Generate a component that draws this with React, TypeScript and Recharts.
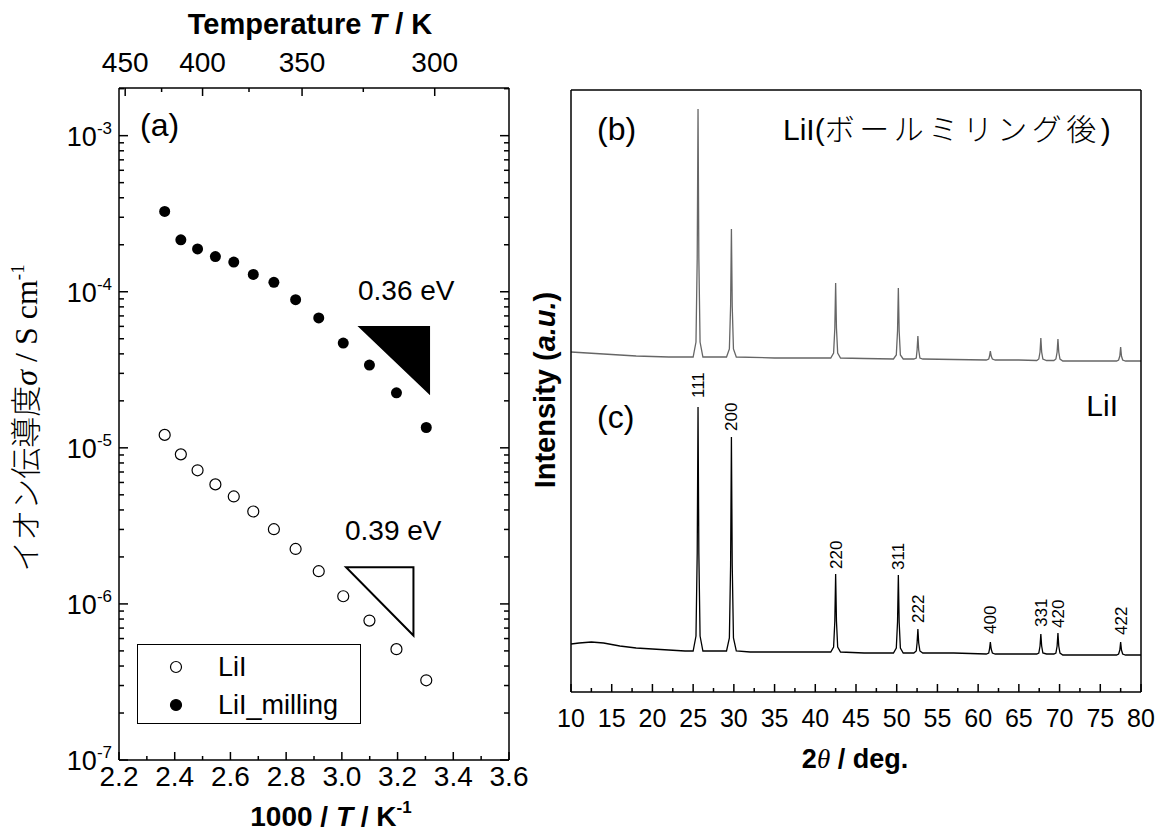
import {
  ScatterChart,
  Scatter,
  ComposedChart,
  Line,
  XAxis,
  YAxis,
  Legend,
} from "recharts";

const SANS = "'Liberation Sans', Arial, sans-serif";
const SERIF = "'Liberation Serif', 'Times New Roman', serif";
const CJK = "'Noto Sans CJK JP', sans-serif";

// (a) conductivity vs 1000/T
const INV_T = [2.364, 2.422, 2.482, 2.546, 2.612, 2.682, 2.756, 2.834, 2.917, 3.005, 3.099, 3.196, 3.303];
const SIGMA_LII = [1.21e-5, 9.08e-6, 7.18e-6, 5.83e-6, 4.88e-6, 3.91e-6, 3.01e-6, 2.25e-6, 1.62e-6, 1.12e-6, 7.82e-7, 5.13e-7, 3.24e-7];
const SIGMA_MILL = [3.27e-4, 2.15e-4, 1.88e-4, 1.68e-4, 1.55e-4, 1.29e-4, 1.15e-4, 8.9e-5, 6.8e-5, 4.69e-5, 3.39e-5, 2.25e-5, 1.35e-5];

// slope triangles (corner points)
const TRI_MILL_X = [3.065, 3.313, 3.313];
const TRI_MILL_Y = [5.94e-5, 5.94e-5, 2.25e-5];
const TRI_LII_X = [3.015, 3.257, 3.257];
const TRI_LII_Y = [1.72e-6, 1.72e-6, 6.27e-7];

const INV_T_TICKS = [2.2, 2.3, 2.4, 2.5, 2.6, 2.7, 2.8, 2.9, 3.0, 3.1, 3.2, 3.3, 3.4, 3.5, 3.6];
const TEMP_TICKS = [450, 425, 400, 375, 350, 325, 300];
const TEMP_LABELED = [450, 400, 350, 300];
const SIGMA_DECADES = [1e-7, 1e-6, 1e-5, 1e-4, 1e-3];
const SIGMA_DOMAIN: [number, number] = [1e-7, 2.02e-3];

// (b), (c) XRD patterns: [2theta, intensity a.u.]
const PATTERN_MILL: [number, number][] = [
  [10, 340], [12, 339], [14, 338], [16, 337], [18, 336], [20, 335.5], [22, 335], [24, 335],
  [25.0, 335], [25.35, 350], [25.5, 434], [25.6, 583], [25.7, 434], [25.85, 350], [26.2, 335],
  [28, 335],
  [29.1, 335], [29.45, 343], [29.6, 386], [29.7, 463], [29.8, 386], [29.95, 343], [30.3, 335],
  [35, 334], [40, 334],
  [41.9, 334], [42.25, 339], [42.4, 364], [42.5, 409], [42.6, 364], [42.75, 339], [43.1, 334],
  [46, 333.5],
  [49.6, 333], [49.95, 337], [50.1, 361], [50.2, 404], [50.3, 361], [50.45, 337], [50.8, 333],
  [52.1, 333], [52.4, 334], [52.5, 342], [52.6, 356], [52.7, 342], [52.85, 334], [53.2, 333],
  [57, 332.5],
  [61.0, 332], [61.3, 333], [61.4, 336], [61.5, 341], [61.6, 336], [61.75, 333], [62.1, 332],
  [65, 332],
  [67.2, 331.5], [67.45, 333], [67.6, 340], [67.7, 354], [67.8, 340], [67.95, 333], [68.4, 331.5],
  [69.3, 331.5], [69.55, 333], [69.7, 340], [69.8, 353], [69.9, 340], [70.05, 333], [70.4, 331],
  [74, 331],
  [77.0, 331], [77.25, 332], [77.4, 336], [77.5, 345], [77.6, 336], [77.75, 332], [78.1, 331],
  [80, 331],
];

const PATTERN_LII: [number, number][] = [
  [10, 48], [11, 49], [12.5, 50], [14, 49], [16, 46], [18, 44], [20, 43], [22, 42], [24, 41],
  [25.0, 41], [25.35, 56], [25.5, 139], [25.6, 285], [25.7, 139], [25.85, 56], [26.2, 41],
  [28, 41],
  [29.1, 41], [29.45, 54], [29.6, 127], [29.7, 255], [29.8, 127], [29.95, 54], [30.3, 41],
  [32, 40], [36, 40], [40, 40],
  [41.9, 40], [42.25, 45], [42.4, 71], [42.5, 118], [42.6, 71], [42.75, 45], [43.1, 40],
  [46, 39],
  [49.6, 39], [49.95, 44], [50.1, 70], [50.2, 117], [50.3, 70], [50.45, 44], [50.8, 39],
  [52.1, 39], [52.4, 41], [52.5, 49], [52.6, 63], [52.7, 49], [52.85, 41], [53.2, 39],
  [57, 39],
  [61.0, 38], [61.3, 39], [61.4, 43], [61.5, 50], [61.6, 43], [61.75, 39], [62.1, 38],
  [65, 38],
  [67.2, 38], [67.45, 39], [67.6, 46], [67.7, 58], [67.8, 46], [67.95, 39], [68.4, 38],
  [69.3, 38], [69.55, 39], [69.7, 46], [69.8, 59], [69.9, 46], [70.05, 39], [70.4, 37],
  [74, 37],
  [77.0, 37], [77.25, 38], [77.4, 42], [77.5, 50], [77.6, 42], [77.75, 38], [78.1, 37],
  [80, 37],
];

const HKL = ["111", "200", "220", "311", "222", "400", "331", "420", "422"];
const HKL_2THETA = [25.6, 29.7, 42.5, 50.2, 52.6, 61.5, 67.7, 69.8, 77.5];
const HKL_LABEL_Y = [294, 261, 123, 122, 69, 58, 65, 64, 57];

const TWO_THETA_TICKS = [
  10, 12.5, 15, 17.5, 20, 22.5, 25, 27.5, 30, 32.5, 35, 37.5, 40, 42.5, 45, 47.5,
  50, 52.5, 55, 57.5, 60, 62.5, 65, 67.5, 70, 72.5, 75, 77.5, 80,
];

const lii = INV_T.map((x, i) => ({ x, y: SIGMA_LII[i] }));
const mill = INV_T.map((x, i) => ({ x, y: SIGMA_MILL[i] }));
const triMill = TRI_MILL_X.map((x, i) => ({ x, y: TRI_MILL_Y[i] }));
const triLii = TRI_LII_X.map((x, i) => ({ x, y: TRI_LII_Y[i] }));
const sigmaTicks = SIGMA_DECADES.flatMap((d) =>
  d >= 1e-3 ? [d, 2 * d] : [1, 2, 3, 4, 5, 6, 7, 8, 9].map((m) => m * d)
);
const millData = PATTERN_MILL.map(([t, i]) => ({ t, i }));
const liiData = PATTERN_LII.map(([t, i]) => ({ t, i }));
const hklData = HKL.map((h, k) => ({ t: HKL_2THETA[k], i: HKL_LABEL_Y[k], h }));

const isDecade = (v: number) =>
  Math.abs(Math.log10(v) - Math.round(Math.log10(v))) < 1e-6;

const AXIS_LINE = { stroke: "#000", strokeWidth: 1.5 };

function LeftTick({ x, y, payload }: any) {
  const v = payload.value;
  const major = isDecade(v);
  const exp = Math.round(Math.log10(v));
  return (
    <g>
      <line x1={x} x2={x + (major ? 9 : 5)} y1={y} y2={y} stroke="#000" strokeWidth={1.5} />
      {major && (
        <text x={x - 7} y={y + 10} textAnchor="end" fontSize={27} fontFamily={SANS} fill="#000">
          <tspan>10</tspan>
          <tspan fontSize={17} dy={-12}>{`-${-exp}`}</tspan>
        </text>
      )}
    </g>
  );
}

function RightTick({ x, y, payload }: any) {
  const major = isDecade(payload.value);
  return <line x1={x} x2={x - (major ? 9 : 5)} y1={y} y2={y} stroke="#000" strokeWidth={1.5} />;
}

function BottomTickA({ x, y, payload }: any) {
  const v = payload.value;
  const major = Math.round(v * 10) % 2 === 0;
  return (
    <g>
      <line x1={x} x2={x} y1={y} y2={y - (major ? 8 : 4)} stroke="#000" strokeWidth={1.5} />
      {major && (
        <text x={x} y={y + 26} textAnchor="middle" fontSize={28} fontFamily={SANS} fill="#000">
          {v.toFixed(1)}
        </text>
      )}
    </g>
  );
}

function TopTickA({ x, y, payload }: any) {
  const temp = Math.round(1000 / payload.value);
  const major = TEMP_LABELED.includes(temp);
  return (
    <g>
      <line x1={x} x2={x} y1={y} y2={y + (major ? 8 : 4)} stroke="#000" strokeWidth={1.5} />
      {major && (
        <text x={x} y={y - 16} textAnchor="middle" fontSize={28} fontFamily={SANS} fill="#000">
          {temp}
        </text>
      )}
    </g>
  );
}

function BottomTickB({ x, y, payload }: any) {
  const v = payload.value;
  const major = v % 5 === 0;
  return (
    <g>
      <line x1={x} x2={x} y1={y} y2={y - (major ? 8 : 4)} stroke="#000" strokeWidth={1.5} />
      {major && (
        <text x={x} y={y + 35} textAnchor="middle" fontSize={25} fontFamily={SANS} fill="#000">
          {v}
        </text>
      )}
    </g>
  );
}

const EmptyTick = () => <g />;

const triangle = (filled: boolean) => (props: any) => {
  const pts = (props.points || []).map((p: any) => `${p.x},${p.y}`).join(" ");
  return (
    <polygon
      points={pts}
      fill={filled ? "#000" : "none"}
      stroke="#000"
      strokeWidth={2}
      strokeLinejoin="miter"
    />
  );
};

const noDot = () => <g />;

function LegendBox({ payload }: any) {
  const items = (payload || []).filter((p: any) => p.value === "LiI" || p.value === "LiI_milling");
  return (
    <div
      style={{
        width: 224,
        height: 80,
        boxSizing: "border-box",
        border: "1.5px solid #000",
        background: "#fff",
        fontFamily: SANS,
        fontSize: 27,
        color: "#000",
        paddingTop: 3,
      }}
    >
      {items.map((p: any) => (
        <div key={p.value} style={{ display: "flex", alignItems: "center", height: 38 }}>
          <svg width={80} height={36}>
            <circle
              cx={38}
              cy={18}
              r={5.5}
              fill={p.value === "LiI" ? "#fff" : "#000"}
              stroke="#000"
              strokeWidth={1.2}
            />
          </svg>
          <span>{p.value}</span>
        </div>
      ))}
    </div>
  );
}

function HklLabel({ cx, cy, payload }: any) {
  return (
    <text
      x={cx + 6}
      y={cy}
      transform={`rotate(-90, ${cx + 6}, ${cy})`}
      fontSize={17}
      fontFamily={SANS}
      fill="#000"
    >
      {payload.h}
    </text>
  );
}

export default function App() {
  return (
    <div style={{ position: "relative", width: 1164, height: 834, margin: "-8px 0 0 -8px", background: "#fff" }}>
      <div style={{ position: "absolute", left: 0, top: 0 }}>
        <ScatterChart width={530} height={834} margin={{ top: 87, right: 20, bottom: 73, left: 118 }}>
          <XAxis
            xAxisId="b"
            dataKey="x"
            type="number"
            domain={[2.2, 3.6]}
            allowDataOverflow
            ticks={INV_T_TICKS}
            interval={0}
            height={1}
            tickSize={0}
            tickMargin={0}
            tickLine={false}
            tick={<BottomTickA />}
            axisLine={AXIS_LINE}
          />
          <XAxis
            xAxisId="t"
            orientation="top"
            dataKey="x"
            type="number"
            domain={[2.2, 3.6]}
            allowDataOverflow
            ticks={TEMP_TICKS.map((T) => 1000 / T)}
            interval={0}
            height={1}
            tickSize={0}
            tickMargin={0}
            tickLine={false}
            tick={<TopTickA />}
            axisLine={AXIS_LINE}
          />
          <YAxis
            yAxisId="l"
            dataKey="y"
            type="number"
            scale="log"
            domain={SIGMA_DOMAIN}
            allowDataOverflow
            ticks={sigmaTicks}
            interval={0}
            width={1}
            tickSize={0}
            tickMargin={0}
            tickLine={false}
            tick={<LeftTick />}
            axisLine={AXIS_LINE}
          />
          <YAxis
            yAxisId="r"
            orientation="right"
            dataKey="y"
            type="number"
            scale="log"
            domain={SIGMA_DOMAIN}
            allowDataOverflow
            ticks={sigmaTicks}
            interval={0}
            width={1}
            tickSize={0}
            tickMargin={0}
            tickLine={false}
            tick={<RightTick />}
            axisLine={AXIS_LINE}
          />
          <Scatter
            name="LiI"
            data={lii}
            xAxisId="b"
            yAxisId="l"
            fill="#fff"
            isAnimationActive={false}
            shape={(p: any) => (
              <circle cx={p.cx} cy={p.cy} r={5.5} fill="#fff" stroke="#000" strokeWidth={1.2} />
            )}
          />
          <Scatter
            name="LiI_milling"
            data={mill}
            xAxisId="b"
            yAxisId="l"
            fill="#000"
            isAnimationActive={false}
            shape={(p: any) => <circle cx={p.cx} cy={p.cy} r={5.5} fill="#000" />}
          />
          <Scatter
            name="slope-mill"
            data={triMill}
            xAxisId="b"
            yAxisId="l"
            legendType="none"
            line={triangle(true)}
            lineType="joint"
            shape={noDot}
            isAnimationActive={false}
          />
          <Scatter
            name="slope-lii"
            data={triLii}
            xAxisId="b"
            yAxisId="l"
            legendType="none"
            line={triangle(false)}
            lineType="joint"
            shape={noDot}
            isAnimationActive={false}
          />
          <Legend
            layout="vertical"
            align="center"
            verticalAlign="middle"
            content={<LegendBox />}
            wrapperStyle={{ position: "absolute", left: 137, top: 644, width: 224, height: 80 }}
          />
        </ScatterChart>
      </div>

      <div style={{ position: "absolute", left: 530, top: 0 }}>
        <ComposedChart width={634} height={834} margin={{ top: 89, right: 22, bottom: 141, left: 40 }}>
          <XAxis
            dataKey="t"
            type="number"
            domain={[10, 80]}
            allowDataOverflow
            ticks={TWO_THETA_TICKS}
            interval={0}
            height={1}
            tickSize={0}
            tickMargin={0}
            tickLine={false}
            tick={<BottomTickB />}
            axisLine={AXIS_LINE}
          />
          <XAxis
            xAxisId="top"
            orientation="top"
            dataKey="t"
            type="number"
            domain={[10, 80]}
            allowDataOverflow
            ticks={[10, 80]}
            height={1}
            tickSize={0}
            tickLine={false}
            tick={<EmptyTick />}
            axisLine={AXIS_LINE}
          />
          <YAxis
            dataKey="i"
            type="number"
            domain={[0, 602]}
            allowDataOverflow
            ticks={[0, 602]}
            width={1}
            tickSize={0}
            tickLine={false}
            tick={<EmptyTick />}
            axisLine={AXIS_LINE}
          />
          <YAxis
            yAxisId="r"
            orientation="right"
            dataKey="i"
            type="number"
            domain={[0, 602]}
            allowDataOverflow
            ticks={[0, 602]}
            width={1}
            tickSize={0}
            tickLine={false}
            tick={<EmptyTick />}
            axisLine={AXIS_LINE}
          />
          <Line
            data={millData}
            dataKey="i"
            type="linear"
            stroke="#666"
            strokeWidth={1.3}
            dot={false}
            isAnimationActive={false}
          />
          <Line
            data={liiData}
            dataKey="i"
            type="linear"
            stroke="#000"
            strokeWidth={1.3}
            dot={false}
            isAnimationActive={false}
          />
          <Scatter data={hklData} dataKey="i" shape={<HklLabel />} isAnimationActive={false} />
        </ComposedChart>
      </div>

      <svg
        width={1164}
        height={834}
        style={{ position: "absolute", left: 0, top: 0, pointerEvents: "none" }}
      >
        <g fontFamily={SANS} fill="#000">
          <text x={310} y={34} textAnchor="middle" fontSize={29} fontWeight="bold">
            Temperature <tspan fontStyle="italic">T</tspan> / K
          </text>
          <text x={140} y={136} fontSize={32}>(a)</text>
          <text x={358} y={300} fontSize={28}>0.36 eV</text>
          <text x={345} y={540} fontSize={28}>0.39 eV</text>
          <text x={331} y={826} textAnchor="middle" fontSize={28} fontWeight="bold">
            1000 / <tspan fontStyle="italic">T</tspan> / K
            <tspan fontSize={17} dy={-13}>-1</tspan>
          </text>

          <text x={597} y={140} fontSize={32}>(b)</text>
          <text x={783} y={140} fontSize={30}>
            LiI(<tspan fontFamily={CJK} fontWeight={300} letterSpacing={4.5}>ボールミリング後</tspan>)
          </text>
          <text x={597} y={428} fontSize={32}>(c)</text>
          <text x={1118} y={416} textAnchor="end" fontSize={30}>LiI</text>
          <text
            x={555}
            y={390}
            textAnchor="middle"
            fontSize={29}
            fontWeight="bold"
            transform="rotate(-90, 555, 390)"
          >
            Intensity (<tspan fontStyle="italic">a.u.</tspan>)
          </text>
          <text x={855} y={768} textAnchor="middle" fontSize={27} fontWeight="bold">
            2<tspan fontStyle="italic" fontWeight="normal" fontFamily={SERIF}>θ</tspan> / deg.
          </text>
        </g>
        <text
          x={37}
          y={418}
          textAnchor="middle"
          fontSize={32}
          fontFamily={SERIF}
          fill="#000"
          transform="rotate(-90, 37, 418)"
        >
          <tspan fontFamily={CJK} fontSize={31} fontWeight={300}>イオン伝導度</tspan>
          <tspan fontStyle="italic">σ</tspan>
          <tspan> / S cm</tspan>
          <tspan fontSize={19} dy={-13}>-1</tspan>
        </text>
      </svg>
    </div>
  );
}
